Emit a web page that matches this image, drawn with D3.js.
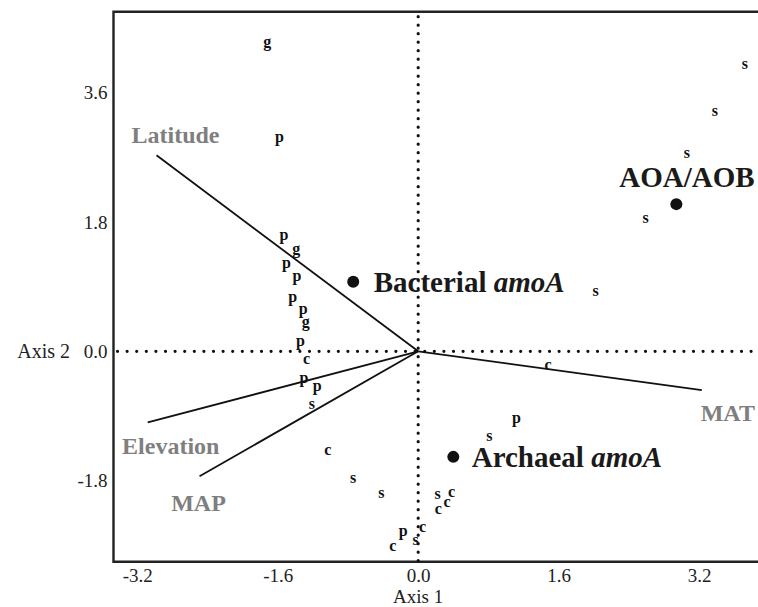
<!DOCTYPE html>
<html lang="en">

<head>
    <meta charset="UTF-8">
    <title>Ordination biplot</title>
    <script src="https://cdn.jsdelivr.net/npm/d3@7/dist/d3.min.js"></script>
    <style>
        body {
            margin: 0;
            background: #fff;
        }

        svg text {
            font-family: "Liberation Serif", "Times New Roman", serif;
        }

        .tick text {
            font-size: 19px;
            fill: #222;
        }
    </style>
</head>

<body>
    <svg id="chart" width="758" height="607"></svg>
    <script>
        // site scores (letter = site type)
        var siteLetters = ["g", "p", "s", "s", "s", "s", "s", "p", "g", "p", "p", "p", "p", "g", "p", "c", "p", "p", "s",
            "c", "s", "s", "s", "c", "c", "c", "c", "p", "s", "c", "s", "p", "c"];
        var siteAxis1 = [-1.72, -1.58, 3.72, 3.38, 3.06, 2.59, 2.02, -1.53, -1.39, -1.50, -1.38, -1.43, -1.31, -1.28, -1.34, -1.27, -1.30, -1.15, -1.21,
            -1.03, -0.74, -0.42, 0.22, 0.38, 0.33, 0.23, 0.05, -0.17, -0.03, -0.29, 0.81, 1.12, 1.48];
        var siteAxis2 = [4.30, 2.98, 4.00, 3.34, 2.76, 1.86, 0.84, 1.62, 1.42, 1.23, 1.04, 0.76, 0.58, 0.40, 0.14, -0.11, -0.37, -0.49, -0.73,
            -1.38, -1.77, -1.97, -1.99, -1.96, -2.10, -2.20, -2.45, -2.50, -2.63, -2.71, -1.18, -0.93, -0.20];

        // environmental vectors
        var envNames = ["Latitude", "Elevation", "MAP", "MAT"];
        var envAxis1 = [-2.98, -3.08, -2.49, 3.23];
        var envAxis2 = [2.73, -0.99, -1.74, -0.54];

        // group centroids
        var groupNames = ["Bacterial amoA", "Archaeal amoA", "AOA/AOB"];
        var groupAxis1 = [-0.74, 0.40, 2.94];
        var groupAxis2 = [0.97, -1.47, 2.05];

        var xTicks = [-3.2, -1.6, 0, 1.6, 3.2];
        var yTicks = [-1.8, 0, 1.8, 3.6];

        var svg = d3.select("#chart");
        var plotLeft = 113.5, plotRight = 758, plotTop = 11.7, plotBottom = 561.7;

        var x = d3.scaleLinear().domain([-3.47, 3.87]).range([plotLeft, plotRight]);
        var y = d3.scaleLinear().domain([-2.93, 4.73]).range([plotBottom, plotTop]);

        var fmt = function (d) { return d.toFixed(1); };

        svg.append("g")
            .attr("transform", "translate(" + plotLeft + ",0)")
            .call(d3.axisLeft(y).tickValues(yTicks).tickSize(0).tickPadding(6).tickFormat(fmt))
            .call(function (g) { g.select(".domain").remove(); });

        svg.append("g")
            .attr("transform", "translate(0," + plotBottom + ")")
            .call(d3.axisBottom(x).tickValues(xTicks).tickSize(0).tickPadding(7).tickFormat(fmt))
            .call(function (g) { g.select(".domain").remove(); });

        // frame (no right edge visible)
        svg.append("path")
            .attr("d", "M" + (plotRight + 2) + "," + plotTop + "H" + plotLeft + "V" + plotBottom + "H" + (plotRight + 2))
            .attr("stroke", "#222").attr("stroke-width", 2.4).attr("fill", "none");

        // dotted zero lines
        svg.append("line")
            .attr("x1", plotLeft + 4).attr("x2", plotRight).attr("y1", y(0)).attr("y2", y(0))
            .attr("stroke", "#111").attr("stroke-width", 3.2).attr("stroke-linecap", "round")
            .attr("stroke-dasharray", "0 9.6");
        svg.append("line")
            .attr("x1", x(0)).attr("x2", x(0)).attr("y1", plotTop + 5).attr("y2", plotBottom)
            .attr("stroke", "#111").attr("stroke-width", 3.2).attr("stroke-linecap", "round")
            .attr("stroke-dasharray", "0 8.5");

        // vectors
        var envLabelOffset = { "Latitude": [19, -12], "Elevation": [23, 32], "MAP": [-1, 35], "MAT": [26, 31] };
        envNames.forEach(function (name, i) {
            svg.append("line")
                .attr("x1", x(0)).attr("y1", y(0))
                .attr("x2", x(envAxis1[i])).attr("y2", y(envAxis2[i]))
                .attr("stroke", "#111").attr("stroke-width", 1.8);
            svg.append("text")
                .attr("x", x(envAxis1[i]) + envLabelOffset[name][0])
                .attr("y", y(envAxis2[i]) + envLabelOffset[name][1])
                .attr("text-anchor", "middle")
                .style("font-size", "24px").style("font-weight", "bold")
                .style("fill", "#7f7f7f")
                .text(name);
        });

        // site letters
        svg.append("g").selectAll("text")
            .data(siteLetters)
            .join("text")
            .attr("x", function (d, i) { return x(siteAxis1[i]); })
            .attr("y", function (d, i) { return y(siteAxis2[i]); })
            .attr("dy", "0.3em")
            .attr("text-anchor", "middle")
            .style("font-size", "16px").style("font-weight", "bold")
            .style("fill", "#111")
            .text(function (d) { return d; });

        // centroids
        var groupLabel = [
            { dx: 20.5, dy: 10.6, anchor: "start" },
            { dx: 18.4, dy: 10.4, anchor: "start" },
            { dx: 10.6, dy: -17.3, anchor: "middle" }
        ];
        groupNames.forEach(function (name, i) {
            svg.append("circle")
                .attr("cx", x(groupAxis1[i])).attr("cy", y(groupAxis2[i]))
                .attr("r", 6).attr("fill", "#111");
            var t = svg.append("text")
                .attr("x", x(groupAxis1[i]) + groupLabel[i].dx)
                .attr("y", y(groupAxis2[i]) + groupLabel[i].dy)
                .attr("text-anchor", groupLabel[i].anchor)
                .style("font-size", "29px").style("font-weight", "bold")
                .style("fill", "#1a1a1a");
            var parts = name.split(" ");
            if (parts.length > 1) {
                t.append("tspan").text(parts[0] + " ");
                t.append("tspan").style("font-style", "italic").text(parts[1]);
            } else {
                t.text(name);
            }
        });

        // axis titles
        svg.append("text")
            .attr("x", x(0)).attr("y", 603)
            .attr("text-anchor", "middle")
            .style("font-size", "19px").style("fill", "#222")
            .text("Axis 1");
        svg.append("text")
            .attr("x", 70).attr("y", y(0)).attr("dy", "0.32em")
            .attr("text-anchor", "end")
            .style("font-size", "20px").style("fill", "#222")
            .text("Axis 2");
    </script>
</body>

</html>
